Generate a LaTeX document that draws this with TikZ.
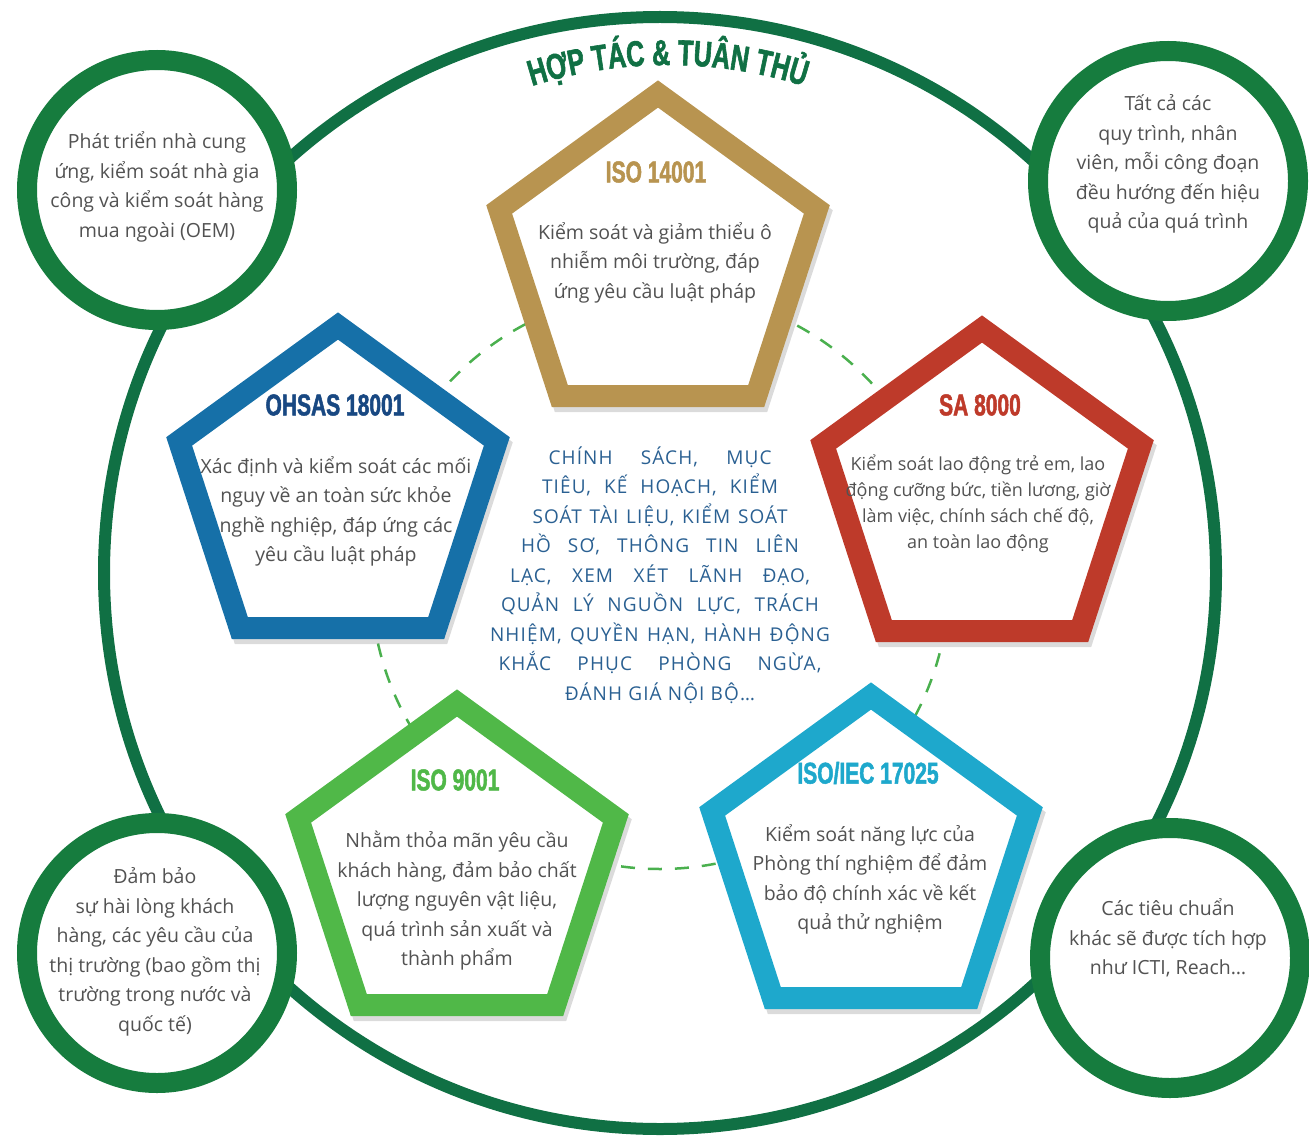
\documentclass[tikz,border=0pt]{standalone}
\usepackage{fontspec}
\setmainfont{Open Sans}
\newfontfamily\headfont[FakeStretch=0.7, FakeBold=1.6]{Liberation Sans}
\newfontfamily\corefont[LetterSpace=6]{Open Sans}
\usepackage{xcolor}
\usetikzlibrary{shapes.geometric, decorations.text}

\definecolor{ringgreen}{RGB}{22,124,62}
\definecolor{arcgreen}{RGB}{16,112,68}
\definecolor{dashgreen}{RGB}{74,176,78}
\definecolor{isogold}{RGB}{184,148,80}
\definecolor{ohblue}{RGB}{22,112,168}
\definecolor{ohnavy}{RGB}{24,72,130}
\definecolor{sared}{RGB}{190,58,42}
\definecolor{qgreen}{RGB}{80,184,72}
\definecolor{labcyan}{RGB}{30,168,204}
\definecolor{coreblue}{RGB}{42,96,146}
\definecolor{bodygray}{RGB}{82,82,82}

\begin{document}
\begin{tikzpicture}[x=1pt, y=1pt,
  ring/.style={circle, draw=ringgreen, line width=20pt, fill=white,
               minimum size=260pt, inner sep=0pt},
  pent/.style={regular polygon, regular polygon sides=5, minimum size=334pt,
               inner sep=0pt, line width=22pt, fill=white, line join=miter,
               preaction={draw=black!40, opacity=.35, line width=22pt,
                          transform canvas={shift={(3pt,-5pt)}}}},
  head/.style={font=\headfont\bfseries\fontsize{30}{30}\selectfont, inner sep=0pt},
  body/.style={align=center, text=bodygray, inner sep=0pt,
               font=\fontsize{19.5}{29.5}\selectfont},
  bodysm/.style={body, font=\fontsize{18}{26}\selectfont},
  core/.style={align=center, text=coreblue, inner sep=0pt,
               font=\corefont\fontsize{19}{29.5}\selectfont}]
\useasboundingbox (0,0) rectangle (1309,-1142);

% outer ring and dashed inner ring
\draw[arcgreen, line width=12pt] (660,-573) circle[radius=556];
\draw[dashgreen, line width=2.5pt, dash pattern=on 14pt off 13pt] (660,-580) circle[radius=289];

% curved title
\path[decorate, decoration={text along path, text align=center,
  text={|\headfont\bfseries\fontsize{36}{36}\selectfont\color{arcgreen}|HỢP TÁC {\&} TUÂN THỦ}}]
  (409.9,-146.4) arc[start angle=125, end angle=55, radius=450];

% standards
\node[pent, draw=isogold] (iso14) at (658,-261) {};
\node[pent, draw=ohblue] (ohsas) at (338,-493) {};
\node[pent, draw=sared] (sa) at (982,-496) {};
\node[pent, draw=qgreen] (iso9) at (457,-870) {};
\node[pent, draw=labcyan] (lab) at (871,-863) {};

\node[head, text=isogold] (iso14t) at (656,-172) {ISO 14001};
\node[head, text=ohnavy] (ohsast) at (335,-405) {OHSAS 18001};
\node[head, text=sared] (sat) at (980,-405) {SA 8000};
\node[head, text=qgreen] (iso9t) at (455,-780) {ISO 9001};
\node[head, text=labcyan] (labt) at (868,-773) {ISO/IEC 17025};

\node[body] (iso14b) at (655,-262.5) {Kiểm soát và giảm thiểu ô\\nhiễm môi trường, đáp\\ứng yêu cầu luật pháp};
\node[body] (ohsasb) at (336,-511.5) {Xác định và kiểm soát các mối\\nguy về an toàn sức khỏe\\nghề nghiệp, đáp ứng các\\yêu cầu luật pháp};
\node[bodysm] (sab) at (978,-504) {Kiểm soát lao động trẻ em, lao\\động cưỡng bức, tiền lương, giờ\\làm việc, chính sách chế độ,\\an toàn lao động};
\node[body] (iso9b) at (457,-901) {Nhằm thỏa mãn yêu cầu\\khách hàng, đảm bảo chất\\lượng nguyên vật liệu,\\quá trình sản xuất và\\thành phẩm};
\node[body] (labb) at (870,-879.5) {Kiểm soát năng lực của\\Phòng thí nghiệm để đảm\\bảo độ chính xác về kết\\quả thử nghiệm};

% corner circles
\node[ring] (supp) at (157,-190) {};
\node[ring] (proc) at (1168,-181) {};
\node[ring] (cust) at (157,-953) {};
\node[ring] (other) at (1170,-958) {};

\node[body] (supptxt) at (157,-187) {Phát triển nhà cung\\ứng, kiểm soát nhà gia\\công và kiểm soát hàng\\mua ngoài (OEM)};
\node[body] (proctxt) at (1168,-164) {Tất cả các\\quy trình, nhân\\viên, mỗi công đoạn\\đều hướng đến hiệu\\quả của quá trình};
\node[body] (custtxt) at (155,-952) {Đảm bảo\\sự hài lòng khách\\hàng, các yêu cầu của\\thị trường (bao gồm thị\\trường trong nước và\\quốc tế)};
\node[body] (othertxt) at (1168,-938) {Các tiêu chuẩn\\khác sẽ được tích hợp\\như ICTI, Reach…};

% common system elements
\node[core] (policy) at (660,-575) {%
  \makebox[223pt][s]{CHÍNH SÁCH, MỤC}\\
  \makebox[236pt][s]{TIÊU, KẾ HOẠCH, KIỂM}\\
  \makebox[255pt][s]{SOÁT TÀI LIỆU, KIỂM SOÁT}\\
  \makebox[278pt][s]{HỒ SƠ, THÔNG TIN LIÊN}\\
  \makebox[300pt][s]{LẠC, XEM XÉT LÃNH ĐẠO,}\\
  \makebox[318pt][s]{QUẢN LÝ NGUỒN LỰC, TRÁCH}\\
  \makebox[340pt][s]{NHIỆM, QUYỀN HẠN, HÀNH ĐỘNG}\\
  \makebox[323pt][s]{KHẮC PHỤC PHÒNG NGỪA,}\\
  ĐÁNH GIÁ NỘI BỘ…};
\end{tikzpicture}
\end{document}
